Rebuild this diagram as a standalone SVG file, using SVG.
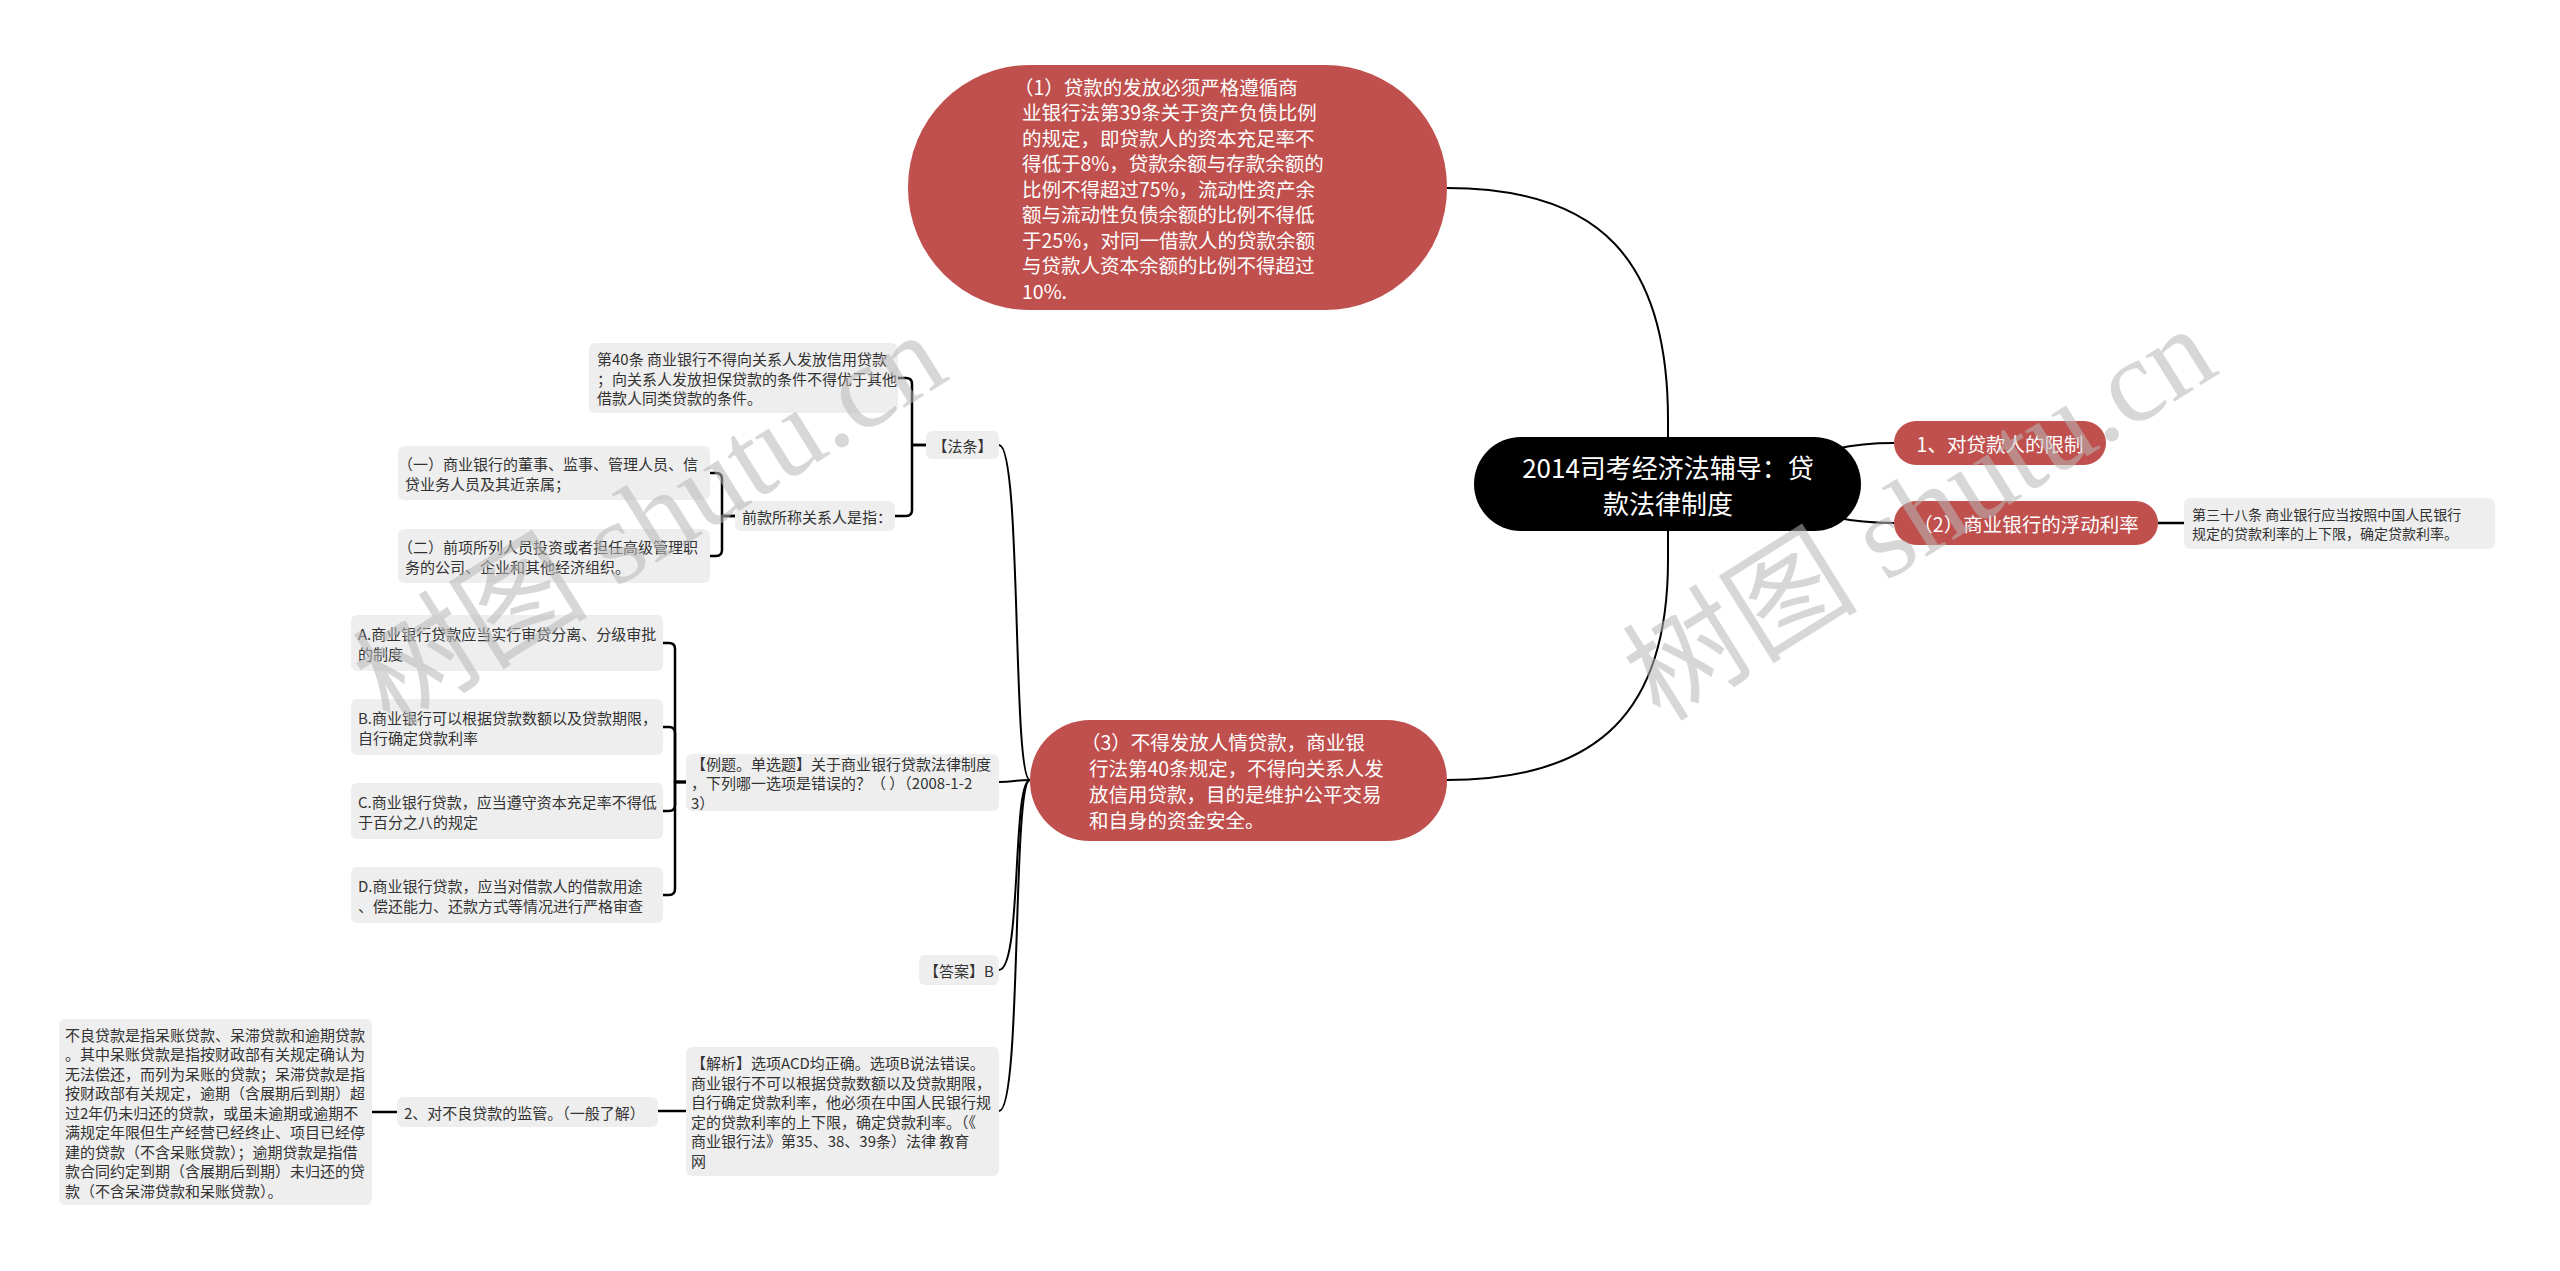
<svg xmlns="http://www.w3.org/2000/svg" width="2560" height="1271" viewBox="0 0 2560 1271">
<style>
text{font-family:"Noto Sans CJK SC","Microsoft YaHei",sans-serif;dominant-baseline:central}
.red{fill:#c0504d}
.gray{fill:#eeeeee}
.root{fill:#000}
.t15{font-size:15px;fill:#333}
.t14{font-size:14px;fill:#333}
.tw{font-size:19.5px;fill:#fff}
.tr{font-size:26px;fill:#fff}
.conn{fill:none;stroke:#000;stroke-width:2}
.br{fill:none;stroke:#000;stroke-width:2.5;stroke-linejoin:round}
.wm{font-family:"Liberation Serif","Noto Sans CJK SC",serif;font-size:118px;fill:#b8b8b8;opacity:0.55}
</style>
<rect width="2560" height="1271" fill="#fff"/>
<g id="connectors">
<path class="conn" d="M1668,484 V420 C1668,260 1600,188 1447,188"/>
<path class="conn" d="M1668,484 V560 C1668,710 1600,780 1447,780"/>
<path class="conn" d="M1668,484 C1800,484 1790,443 1894,443"/>
<path class="conn" d="M1668,484 C1800,484 1790,523 1894,523"/>
<path class="br" d="M2158,523 H2184"/>
<path class="conn" d="M1030,780 C1012,780 1022,445 999,445"/>
<path class="conn" d="M1030,780 C1015,780 1014,782 999,782"/>
<path class="conn" d="M1030,780 C1012,780 1022,970 999,970"/>
<path class="conn" d="M1030,780 C1012,780 1022,1111 999,1111"/>
<path class="br" d="M926,445 H912 V384 Q912,378 906,378 H898"/>
<path class="br" d="M926,445 H912 V510 Q912,516 906,516 H895"/>
<path class="br" d="M735,516 H722 V479 Q722,473 716,473 H710"/>
<path class="br" d="M735,516 H722 V550 Q722,556 716,556 H710"/>
<path class="br" d="M686,782 H675 V649 Q675,643 669,643 H663"/>
<path class="br" d="M686,782 H675 V733 Q675,727 669,727 H663"/>
<path class="br" d="M686,782 H675 V805 Q675,811 669,811 H663"/>
<path class="br" d="M686,782 H675 V889 Q675,895 669,895 H663"/>
<path class="br" d="M686,1111 H658"/>
<path class="br" d="M397,1112 H372"/>
</g>
<g id="root">
<rect class="root" x="1474" y="437" width="387" height="94" rx="47"/>
<text class="tr" x="1668" y="466" text-anchor="middle">2014司考经济法辅导：贷</text>
<text class="tr" x="1668" y="502" text-anchor="middle">款法律制度</text>
</g>
<g id="n1">
<rect class="red" x="908" y="65" width="539" height="245" rx="122"/>
<text class="tw" x="1014" y="86">（1）贷款的发放必须严格遵循商</text>
<text class="tw" x="1022" y="111.5">业银行法第39条关于资产负债比例</text>
<text class="tw" x="1022" y="137">的规定，即贷款人的资本充足率不</text>
<text class="tw" x="1022" y="162.5">得低于8%，贷款余额与存款余额的</text>
<text class="tw" x="1022" y="188">比例不得超过75%，流动性资产余</text>
<text class="tw" x="1022" y="213.5">额与流动性负债余额的比例不得低</text>
<text class="tw" x="1022" y="239">于25%，对同一借款人的贷款余额</text>
<text class="tw" x="1022" y="264.5">与贷款人资本余额的比例不得超过</text>
<text class="tw" x="1022" y="290">10%.</text>
</g>
<g id="r1">
<rect class="red" x="1894" y="421" width="212" height="44" rx="22"/>
<text class="tw" x="2000" y="443" text-anchor="middle">1、对贷款人的限制</text>
</g>
<g id="r2">
<rect class="red" x="1894" y="501" width="264" height="44" rx="22"/>
<text class="tw" x="2026" y="523" text-anchor="middle">（2）商业银行的浮动利率</text>
</g>
<g id="r2leaf">
<rect class="gray" x="2184" y="498" width="311" height="51" rx="6"/>
<text class="t14" x="2192" y="514">第三十八条 商业银行应当按照中国人民银行</text>
<text class="t14" x="2192" y="533">规定的贷款利率的上下限，确定贷款利率。</text>
</g>
<g id="n3">
<rect class="red" x="1030" y="720" width="417" height="121" rx="60"/>
<text class="tw" x="1081" y="741">（3）不得发放人情贷款，商业银</text>
<text class="tw" x="1089" y="767">行法第40条规定，不得向关系人发</text>
<text class="tw" x="1089" y="793">放信用贷款，目的是维护公平交易</text>
<text class="tw" x="1089" y="819">和自身的资金安全。</text>
</g>
<g id="fatiao">
<rect class="gray" x="926" y="431" width="73" height="28" rx="6"/>
<text class="t15" x="962.5" y="445" text-anchor="middle">【法条】</text>
</g>
<g id="art40">
<rect class="gray" x="589" y="343" width="309" height="70" rx="6"/>
<text class="t15" x="597" y="358.5">第40条 商业银行不得向关系人发放信用贷款</text>
<text class="t15" x="597" y="378">；向关系人发放担保贷款的条件不得优于其他</text>
<text class="t15" x="597" y="397.5">借款人同类贷款的条件。</text>
</g>
<g id="qiankuan">
<rect class="gray" x="735" y="501" width="160" height="30" rx="6"/>
<text class="t15" x="742" y="516">前款所称关系人是指：</text>
</g>
<g id="yi">
<rect class="gray" x="398" y="446" width="312" height="54" rx="6"/>
<text class="t15" x="398" y="463.5">（一）商业银行的董事、监事、管理人员、信</text>
<text class="t15" x="405" y="483">贷业务人员及其近亲属；</text>
</g>
<g id="er">
<rect class="gray" x="398" y="529" width="312" height="54" rx="6"/>
<text class="t15" x="398" y="546.5">（二）前项所列人员投资或者担任高级管理职</text>
<text class="t15" x="405" y="566">务的公司、企业和其他经济组织。</text>
</g>
<g id="liti">
<rect class="gray" x="686" y="754" width="313" height="57" rx="6"/>
<text class="t15" x="691" y="763">【例题。单选题】关于商业银行贷款法律制度</text>
<text class="t15" x="691" y="782.5">，下列哪一选项是错误的？（ ）（2008-1-2</text>
<text class="t15" x="691" y="802">3）</text>
</g>
<g id="optA">
<rect class="gray" x="351" y="615" width="312" height="56" rx="6"/>
<text class="t15" x="358" y="633.5">A.商业银行贷款应当实行审贷分离、分级审批</text>
<text class="t15" x="358" y="653">的制度</text>
</g>
<g id="optB">
<rect class="gray" x="351" y="699" width="312" height="56" rx="6"/>
<text class="t15" x="358" y="717.5">B.商业银行可以根据贷款数额以及贷款期限，</text>
<text class="t15" x="358" y="737">自行确定贷款利率</text>
</g>
<g id="optC">
<rect class="gray" x="351" y="783" width="312" height="56" rx="6"/>
<text class="t15" x="358" y="801.5">C.商业银行贷款，应当遵守资本充足率不得低</text>
<text class="t15" x="358" y="821">于百分之八的规定</text>
</g>
<g id="optD">
<rect class="gray" x="351" y="867" width="312" height="56" rx="6"/>
<text class="t15" x="358" y="885.5">D.商业银行贷款，应当对借款人的借款用途</text>
<text class="t15" x="358" y="905">、偿还能力、还款方式等情况进行严格审查</text>
</g>
<g id="daan">
<rect class="gray" x="919" y="955" width="80" height="30" rx="6"/>
<text class="t15" x="959" y="970" text-anchor="middle">【答案】B</text>
</g>
<g id="jiexi">
<rect class="gray" x="686" y="1047" width="313" height="129" rx="6"/>
<text class="t15" x="691" y="1062.5">【解析】选项ACD均正确。选项B说法错误。</text>
<text class="t15" x="691" y="1082">商业银行不可以根据贷款数额以及贷款期限，</text>
<text class="t15" x="691" y="1101.5">自行确定贷款利率，他必须在中国人民银行规</text>
<text class="t15" x="691" y="1121">定的贷款利率的上下限，确定贷款利率。（《</text>
<text class="t15" x="691" y="1140.5">商业银行法》第35、38、39条）法律 教育</text>
<text class="t15" x="691" y="1160">网</text>
</g>
<g id="buliang">
<rect class="gray" x="397" y="1097" width="261" height="30" rx="6"/>
<text class="t15" x="404" y="1112">2、对不良贷款的监管。（一般了解）</text>
</g>
<g id="buliangleaf">
<rect class="gray" x="59" y="1019" width="313" height="186" rx="6"/>
<text class="t15" x="65" y="1034">不良贷款是指呆账贷款、呆滞贷款和逾期贷款</text>
<text class="t15" x="65" y="1053.5">。其中呆账贷款是指按财政部有关规定确认为</text>
<text class="t15" x="65" y="1073">无法偿还，而列为呆账的贷款；呆滞贷款是指</text>
<text class="t15" x="65" y="1092.5">按财政部有关规定，逾期（含展期后到期）超</text>
<text class="t15" x="65" y="1112">过2年仍未归还的贷款，或虽未逾期或逾期不</text>
<text class="t15" x="65" y="1131.5">满规定年限但生产经营已经终止、项目已经停</text>
<text class="t15" x="65" y="1151">建的贷款（不含呆账贷款）；逾期贷款是指借</text>
<text class="t15" x="65" y="1170.5">款合同约定到期（含展期后到期）未归还的贷</text>
<text class="t15" x="65" y="1190">款（不含呆滞贷款和呆账贷款）。</text>
</g>
<g id="watermarks">
<text class="wm" x="650" y="520" text-anchor="middle" transform="rotate(-32 650 520)">树图 shutu.cn</text>
<text class="wm" x="1920" y="514" text-anchor="middle" transform="rotate(-32 1920 514)">树图 shutu.cn</text>
</g>
</svg>
